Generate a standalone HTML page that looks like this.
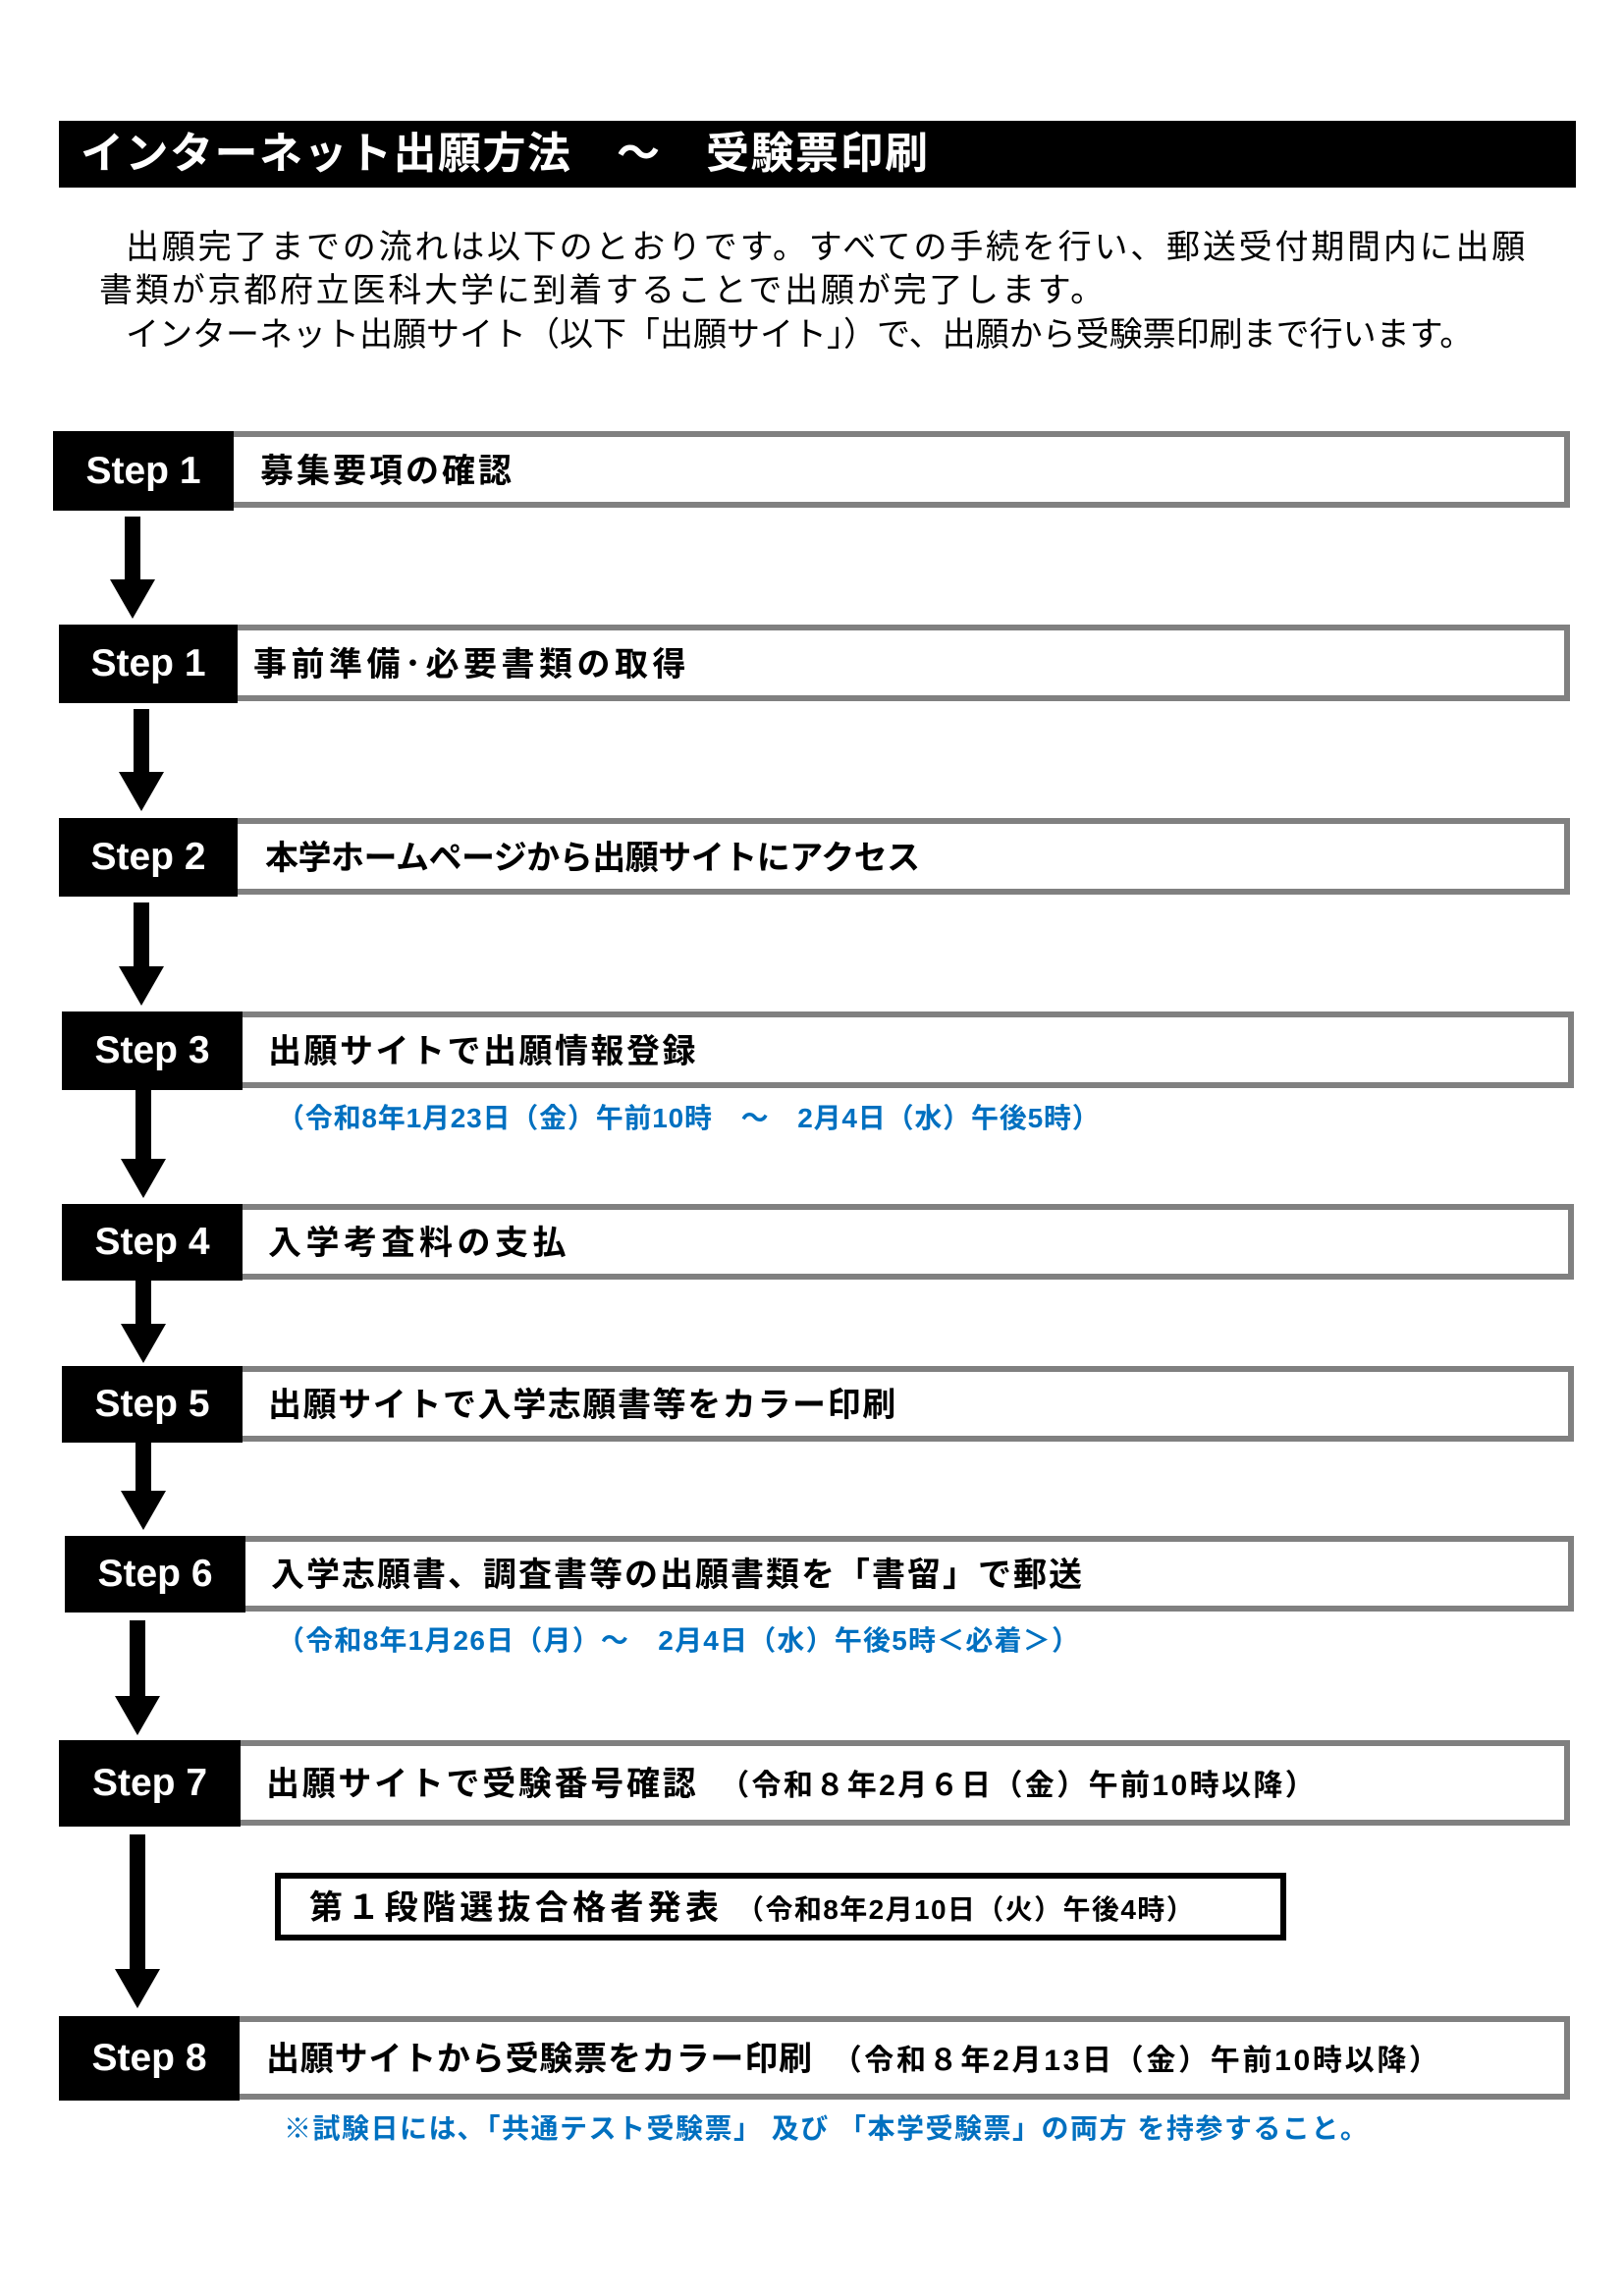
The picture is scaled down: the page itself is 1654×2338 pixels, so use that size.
<!DOCTYPE html>
<html><head><meta charset="utf-8"><style>
body{margin:0;width:1654px;height:2338px;background:#fff;position:relative;overflow:hidden;font-family:"Liberation Sans","Noto Sans CJK JP",sans-serif}
.a{position:absolute}
.title{left:60px;top:123px;width:1545px;height:68px;background:#000;color:#fff;font-weight:bold;font-size:44px;line-height:68px;padding-left:22px;box-sizing:border-box;white-space:pre;letter-spacing:1.5px}
.p{font-size:34px;line-height:44px;white-space:pre;color:#000;letter-spacing:2.8px}
.rect{border:6px solid #808080;background:#fff;box-sizing:border-box}
.blk{background:#000;color:#fff;font-weight:bold;font-size:39px;box-sizing:border-box;display:flex;align-items:center;justify-content:center}
.lbl{font-weight:bold;font-size:34px;white-space:pre;color:#000;letter-spacing:3px}
.blue{font-weight:bold;font-size:28px;color:#0070C0;white-space:pre;letter-spacing:1.2px}
.sh{background:#000}
.hd{width:0;height:0;border-left:23px solid transparent;border-right:23px solid transparent;border-top:40px solid #000}
</style></head><body>
<div class="a title">インターネット出願方法　～　受験票印刷</div>
<div class="a p" style="left:128px;top:230px">出願完了までの流れは以下のとおりです。すべての手続を行い、郵送受付期間内に出願</div>
<div class="a p" style="left:101px;top:274px">書類が京都府立医科大学に到着することで出願が完了します。</div>
<div class="a p" style="left:128px;top:319px;letter-spacing:0">インターネット出願サイト（以下「出願サイト」）で、出願から受験票印刷まで行います。</div>

<div class="a rect" style="left:230px;top:439px;width:1369px;height:78px"></div>
<div class="a blk" style="left:54px;top:439px;width:184px;height:81px">Step 1</div>
<div class="a lbl" style="left:265px;top:452px">募集要項の確認</div>
<div class="a sh" style="left:127px;top:526px;width:16px;height:66px"></div>
<div class="a hd" style="left:112px;top:590px"></div>

<div class="a rect" style="left:235px;top:636px;width:1364px;height:78px"></div>
<div class="a blk" style="left:60px;top:636px;width:182px;height:80px">Step 1</div>
<div class="a lbl" style="left:258px;top:649px;letter-spacing:4.5px">事前準備･必要書類の取得</div>
<div class="a sh" style="left:136px;top:722px;width:16px;height:66px"></div>
<div class="a hd" style="left:121px;top:786px"></div>

<div class="a rect" style="left:235px;top:833px;width:1364px;height:78px"></div>
<div class="a blk" style="left:60px;top:833px;width:182px;height:80px">Step 2</div>
<div class="a lbl" style="left:270px;top:846px;letter-spacing:-0.5px">本学ホームページから出願サイトにアクセス</div>
<div class="a sh" style="left:136px;top:919px;width:16px;height:66px"></div>
<div class="a hd" style="left:121px;top:984px"></div>

<div class="a rect" style="left:240px;top:1030px;width:1363px;height:78px"></div>
<div class="a blk" style="left:63px;top:1030px;width:184px;height:80px">Step 3</div>
<div class="a lbl" style="left:273px;top:1043px;letter-spacing:2.5px">出願サイトで出願情報登録</div>
<div class="a blue" style="left:282px;top:1117px;letter-spacing:0.8px">（令和8年1月23日（金）午前10時　～　2月4日（水）午後5時）</div>
<div class="a sh" style="left:138px;top:1108px;width:16px;height:74px"></div>
<div class="a hd" style="left:123px;top:1180px"></div>

<div class="a rect" style="left:240px;top:1226px;width:1363px;height:77px"></div>
<div class="a blk" style="left:63px;top:1226px;width:184px;height:78px">Step 4</div>
<div class="a lbl" style="left:273px;top:1238px;letter-spacing:4.5px">入学考査料の支払</div>
<div class="a sh" style="left:138px;top:1302px;width:16px;height:48px"></div>
<div class="a hd" style="left:123px;top:1348px"></div>

<div class="a rect" style="left:240px;top:1391px;width:1363px;height:77px"></div>
<div class="a blk" style="left:63px;top:1391px;width:184px;height:78px">Step 5</div>
<div class="a lbl" style="left:273px;top:1403px;letter-spacing:1.6px">出願サイトで入学志願書等をカラー印刷</div>
<div class="a sh" style="left:138px;top:1468px;width:16px;height:52px"></div>
<div class="a hd" style="left:123px;top:1518px"></div>

<div class="a rect" style="left:243px;top:1564px;width:1360px;height:77px"></div>
<div class="a blk" style="left:66px;top:1564px;width:184px;height:78px">Step 6</div>
<div class="a lbl" style="left:276px;top:1576px;letter-spacing:2px">入学志願書、調査書等の出願書類を「書留」で郵送</div>
<div class="a blue" style="left:282px;top:1649px">（令和8年1月26日（月）～　2月4日（水）午後5時＜必着＞）</div>
<div class="a sh" style="left:132px;top:1650px;width:16px;height:78px"></div>
<div class="a hd" style="left:117px;top:1727px"></div>

<div class="a rect" style="left:238px;top:1772px;width:1361px;height:87px"></div>
<div class="a blk" style="left:60px;top:1772px;width:185px;height:88px">Step 7</div>
<div class="a lbl" style="left:271px;top:1789px;letter-spacing:2.7px">出願サイトで受験番号確認　<span style="font-size:30px;letter-spacing:2.4px">（令和８年2月６日（金）午前10時以降）</span></div>
<div class="a sh" style="left:132px;top:1868px;width:16px;height:138px"></div>
<div class="a hd" style="left:117px;top:2005px"></div>
<div class="a" style="left:280px;top:1907px;width:1030px;height:69px;border:6px solid #000;box-sizing:border-box"></div>
<div class="a lbl" style="left:315px;top:1915px;letter-spacing:4.3px">第１段階選抜合格者発表 <span style="font-size:28px;letter-spacing:1.4px">（令和8年2月10日（火）午後4時）</span></div>

<div class="a rect" style="left:238px;top:2053px;width:1361px;height:85px"></div>
<div class="a blk" style="left:60px;top:2053px;width:184px;height:86px">Step 8</div>
<div class="a lbl" style="left:271px;top:2069px;letter-spacing:0.8px">出願サイトから受験票をカラー印刷　<span style="font-size:30px;letter-spacing:2.7px">（令和８年2月13日（金）午前10時以降）</span></div>
<div class="a blue" style="left:289px;top:2146px;letter-spacing:1.5px">※試験日には､「共通テスト受験票」 及び 「本学受験票」の両方 を持参すること。</div>
</body></html>
